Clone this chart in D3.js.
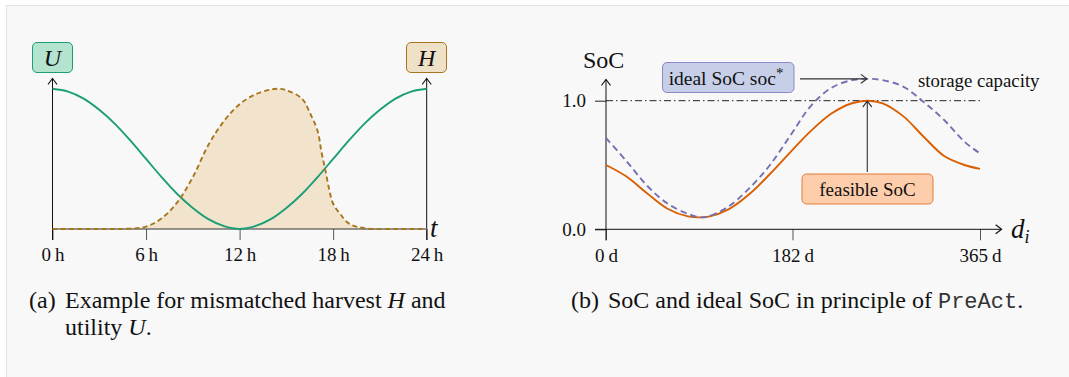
<!DOCTYPE html>
<html>
<head>
<meta charset="utf-8">
<script src="https://cdn.jsdelivr.net/npm/d3@7"></script>
<style>
  html, body { margin: 0; padding: 0; background: #ffffff; }
  svg { display: block; }
  text { font-family: "Liberation Serif", "Times New Roman", serif; fill: #111; }
  .mono { font-family: "Liberation Mono", "DejaVu Sans Mono", monospace; fill: #333; }
</style>
</head>
<body>
<svg id="fig" width="1069" height="377"></svg>
<script>
// ---- (a) daily utility U and harvest H ----
const hourTicks = [0, 6, 12, 18, 24];
const utilityHours = [0,1,2,3,4,5,6,7,8,9,10,11,12,13,14,15,16,17,18,19,20,21,22,23,24];
const utilityValues = [1.00,0.98,0.93,0.85,0.75,0.63,0.50,0.37,0.25,0.15,0.07,0.02,0.00,
                       0.02,0.07,0.15,0.25,0.37,0.50,0.63,0.75,0.85,0.93,0.98,1.00];
const harvestHours = [0,2,4,5,6,7,8,9,10,11,12,13,14,14.5,15,16,16.5,17,17.25,17.5,17.75,18,18.5,19,20,22,24];
const harvestValues = [0,0,0,0.003,0.017,0.076,0.19,0.37,0.60,0.77,0.89,0.96,0.995,1.00,0.99,0.93,0.83,0.70,0.55,0.42,0.28,0.18,0.10,0.04,0.005,0,0];

// ---- (b) state of charge over the year ----
const dayTicks = [0, 182, 365];
const socTicks = [0.0, 1.0];
const socDays = [0,20,40,60,80,92,100,120,140,160,180,200,220,240,255,270,290,310,330,350,365];
const feasibleSoC = [0.50,0.41,0.28,0.16,0.10,0.093,0.098,0.157,0.274,0.43,0.60,0.765,0.90,0.98,1.00,0.98,0.88,0.72,0.57,0.50,0.47];
const idealSoC = [0.71,0.53,0.34,0.20,0.12,0.093,0.10,0.18,0.32,0.50,0.73,0.96,1.10,1.16,1.17,1.16,1.11,0.99,0.85,0.68,0.59];
const storageCapacity = 1.0;

const C = {
  green: "#1b9e77", greenFill: "#b4e3cf",
  brown: "#a6761d", brownFill: "#f1e3cc", brownBox: "#efe0c8",
  purple: "#7570b3", purpleFill: "#c7cfe8", purpleStroke: "#8b88c6",
  orange: "#d95f02", orangeFill: "#fdcdac", orangeStroke: "#e27a35",
  tick: "#555"
};

const svg = d3.select("#fig");
const smooth = d3.curveCatmullRom.alpha(0.5);

// card background
svg.append("rect").attr("x", 6.5).attr("y", 5.5).attr("width", 1100).attr("height", 400)
  .attr("fill", "#f8f8f8").attr("stroke", "#e3e3e3");

// open LaTeX-style arrow tip at (x,y) pointing in direction angle (deg)
function tip(g, x, y, angle, color) {
  g.append("path")
    .attr("d", "M-5.5,-4.2 Q-1.5,-1.2 0,0 Q-1.5,1.2 -5.5,4.2")
    .attr("transform", `translate(${x},${y}) rotate(${angle})`)
    .attr("fill", "none").attr("stroke", color || "#111").attr("stroke-width", 1.2)
    .attr("stroke-linecap", "round");
}

function labelBox(g, x0, y0, x1, y1, fill, stroke) {
  g.append("rect").attr("x", x0).attr("y", y0).attr("width", x1 - x0).attr("height", y1 - y0)
    .attr("rx", 4.5).attr("fill", fill).attr("stroke", stroke).attr("stroke-width", 1);
}

// ================= panel (a) =================
const xL = d3.scaleLinear().domain([0, 24]).range([52.5, 426.7]);
const yL = d3.scaleLinear().domain([0, 1]).range([229, 88.8]);
const gA = svg.append("g");

const hPts = harvestHours.map((h, i) => [h, harvestValues[i]]);
const uPts = utilityHours.map((h, i) => [h, utilityValues[i]]);
const yClampL = v => Math.min(yL(0), yL(v));

gA.append("path").datum(hPts)
  .attr("d", d3.area().x(d => xL(d[0])).y0(yL(0)).y1(d => yL(d[1])).curve(smooth))
  .attr("fill", C.brownFill);

// x axis with hour ticks
const axA = gA.append("g").attr("transform", `translate(0,${yL(0)})`)
  .call(d3.axisBottom(xL).tickValues(hourTicks).tickSize(11).tickPadding(8)
    .tickFormat(d => d + "\u2009h"));
axA.select(".domain").remove();
axA.selectAll(".tick line").attr("stroke", C.tick).attr("stroke-width", 1);
axA.selectAll(".tick text").attr("font-size", 19).attr("font-family", "Liberation Serif").attr("fill", "#111");
gA.append("line").attr("x1", xL(0)).attr("x2", xL(24)).attr("y1", yL(0)).attr("y2", yL(0))
  .attr("stroke", "#333").attr("stroke-width", 1);

// vertical axes for U (left) and H (right)
[0, 24].forEach(h => {
  gA.append("line").attr("x1", xL(h)).attr("x2", xL(h)).attr("y1", yL(0) + 11).attr("y2", 78.5)
    .attr("stroke", "#111").attr("stroke-width", 1);
  tip(gA, xL(h), 78.5, -90);
});

gA.append("path").datum(uPts)
  .attr("d", d3.line().x(d => xL(d[0])).y(d => yClampL(d[1])).curve(smooth))
  .attr("fill", "none").attr("stroke", C.green).attr("stroke-width", 1.9);

gA.append("path").datum(hPts)
  .attr("d", d3.line().x(d => xL(d[0])).y(d => yL(d[1])).curve(smooth))
  .attr("fill", "none").attr("stroke", C.brown).attr("stroke-width", 1.9)
  .attr("stroke-dasharray", "5,3.2");

gA.append("text").attr("x", 430).attr("y", 237).attr("font-size", 27).attr("font-style", "italic").text("t");

labelBox(gA, 32.5, 42.5, 72.5, 72.5, C.greenFill, C.green);
gA.append("text").attr("x", xL(0)).attr("y", 65.5).attr("text-anchor", "middle")
  .attr("font-size", 24).attr("font-style", "italic").text("U");
labelBox(gA, 406.5, 42.5, 446.5, 72.5, C.brownBox, C.brown);
gA.append("text").attr("x", xL(24)).attr("y", 65.5).attr("text-anchor", "middle")
  .attr("font-size", 24).attr("font-style", "italic").text("H");

// ================= panel (b) =================
const xR = d3.scaleLinear().domain([0, 365]).range([606, 980]);
const yR = d3.scaleLinear().domain([0, 1]).range([229.3, 100.7]);
const gB = svg.append("g");

// storage capacity line
gB.append("line").attr("x1", 606).attr("x2", xR(365)).attr("y1", yR(storageCapacity)).attr("y2", yR(storageCapacity))
  .attr("stroke", "#222").attr("stroke-width", 1).attr("stroke-dasharray", "7,3,1.5,3");

const axBx = gB.append("g").attr("transform", `translate(0,${yR(0)})`)
  .call(d3.axisBottom(xR).tickValues(dayTicks).tickSize(11).tickPadding(8)
    .tickFormat(d => d + "\u2009d"));
axBx.select(".domain").remove();
axBx.selectAll(".tick line").attr("stroke", C.tick);
axBx.selectAll(".tick text").attr("font-size", 19).attr("font-family", "Liberation Serif").attr("fill", "#111");

const axBy = gB.append("g").attr("transform", `translate(${xR(0)},0)`)
  .call(d3.axisLeft(yR).tickValues(socTicks).tickSize(11).tickPadding(9).tickFormat(d3.format(".1f")));
axBy.select(".domain").remove();
axBy.selectAll(".tick line").attr("stroke", "#222");
axBy.selectAll(".tick text").attr("font-size", 19).attr("font-family", "Liberation Serif").attr("fill", "#111");

gB.append("line").attr("x1", 595).attr("x2", 1001.5).attr("y1", yR(0)).attr("y2", yR(0))
  .attr("stroke", "#111").attr("stroke-width", 1);
tip(gB, 1001.5, yR(0), 0);
gB.append("line").attr("x1", xR(0)).attr("x2", xR(0)).attr("y1", yR(0) + 11).attr("y2", 79.5)
  .attr("stroke", "#111").attr("stroke-width", 1);
tip(gB, xR(0), 79.5, -90);

const lineR = d3.line().x(d => xR(d[0])).y(d => yR(d[1])).curve(smooth);
const idealPts = socDays.map((d, i) => [d, idealSoC[i]]);
const feasPts = socDays.map((d, i) => [d, feasibleSoC[i]]);

gB.append("path").datum(feasPts).attr("d", lineR)
  .attr("fill", "none").attr("stroke", C.orange).attr("stroke-width", 1.9);
gB.append("path").datum(idealPts).attr("d", lineR)
  .attr("fill", "none").attr("stroke", C.purple).attr("stroke-width", 1.9)
  .attr("stroke-dasharray", "6.5,4");

// axis titles
gB.append("text").attr("x", 583).attr("y", 68).attr("font-size", 24).text("SoC");
const dt = gB.append("text").attr("x", 1011).attr("y", 238).attr("font-size", 27).attr("font-style", "italic");
dt.append("tspan").text("d");
dt.append("tspan").attr("font-size", 18).attr("dy", 5).text("i");

// annotations
const iPeak = d3.maxIndex(idealSoC);
const fPeak = d3.maxIndex(feasibleSoC);
const ix = xR(socDays[iPeak]), iy = yR(idealSoC[iPeak]);
const fx = xR(socDays[fPeak]), fy = yR(feasibleSoC[fPeak]);

labelBox(gB, 662.5, 62.5, 794, 92.5, C.purpleFill, C.purpleStroke);
const it = gB.append("text").attr("x", 726).attr("y", 84.5).attr("text-anchor", "middle").attr("font-size", 19.5);
it.append("tspan").text("ideal SoC soc");
it.append("tspan").attr("font-size", 15).attr("dy", -7).text("*");
gB.append("line").attr("x1", 800).attr("x2", ix - 0.5).attr("y1", iy).attr("y2", iy)
  .attr("stroke", "#333").attr("stroke-width", 1.1);
tip(gB, ix - 0.5, iy, 0, "#333");

gB.append("text").attr("x", 918).attr("y", 86.5).attr("font-size", 18.8).text("storage capacity");

labelBox(gB, 802, 174, 933, 204, C.orangeFill, C.orangeStroke);
gB.append("text").attr("x", 867.5).attr("y", 195.5).attr("text-anchor", "middle").attr("font-size", 19).text("feasible SoC");
gB.append("line").attr("x1", fx).attr("x2", fx).attr("y1", 172).attr("y2", fy + 0.5)
  .attr("stroke", "#333").attr("stroke-width", 1.1);
tip(gB, fx, fy + 0.5, -90, "#333");

// ================= captions =================
const capA1 = svg.append("text").attr("y", 308).attr("font-size", 24);
capA1.append("tspan").attr("x", 29).text("(a)");
capA1.append("tspan").attr("x", 65).text("Example for mismatched harvest ");
capA1.append("tspan").attr("font-style", "italic").text("H");
capA1.append("tspan").text(" and");
const capA2 = svg.append("text").attr("y", 335).attr("font-size", 24);
capA2.append("tspan").attr("x", 65).text("utility ");
capA2.append("tspan").attr("font-style", "italic").text("U");
capA2.append("tspan").text(".");

const capB = svg.append("text").attr("y", 308).attr("font-size", 24);
capB.append("tspan").attr("x", 571).text("(b)");
capB.append("tspan").attr("x", 608).text("SoC and ideal SoC in principle of ");
capB.append("tspan").attr("class", "mono").attr("font-size", 22).text("PreAct");
capB.append("tspan").text(".");
</script>
</body>
</html>
